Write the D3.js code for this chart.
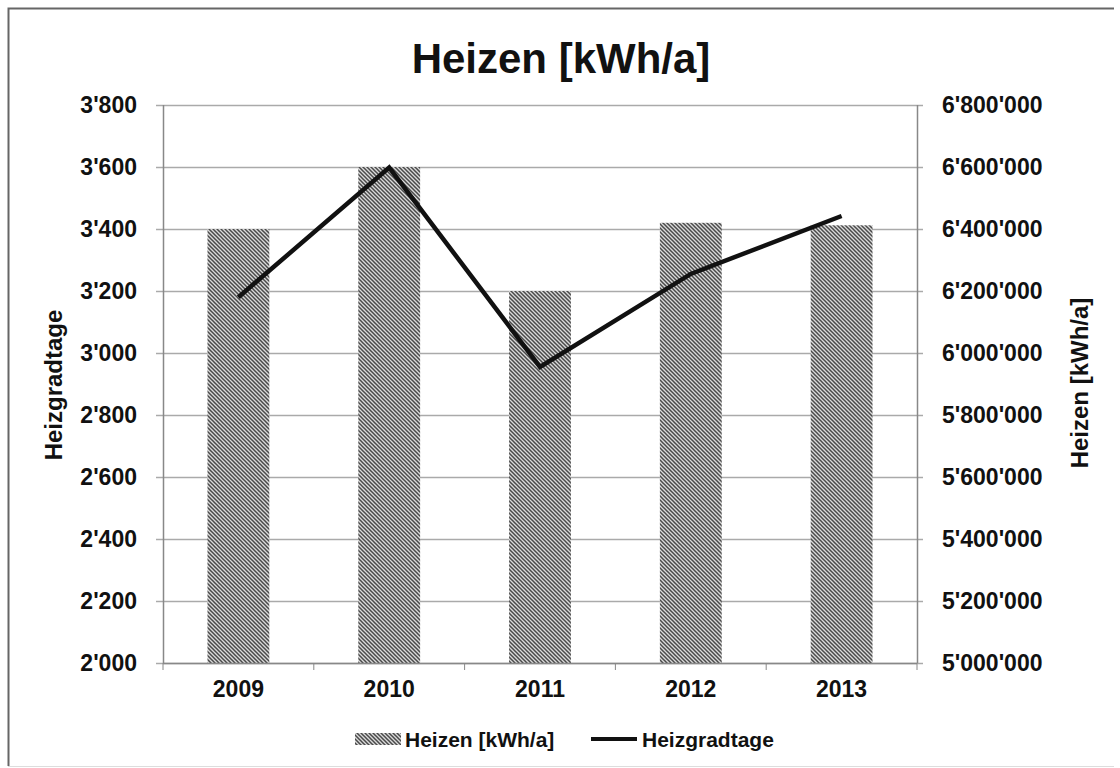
<!DOCTYPE html>
<html>
<head>
<meta charset="utf-8">
<script src="https://cdn.jsdelivr.net/npm/d3@7"></script>
<style>
  body { margin: 0; background: #fff; }
  text { font-family: "Liberation Sans", Arial, sans-serif; font-weight: bold; fill: #111; }
</style>
</head>
<body>
<script>
// data
let years = ["2009", "2010", "2011", "2012", "2013"];
let heizen = [6400000, 6600000, 6200000, 6420000, 6412000];   // bars, right axis
let heizgradtage = [3180, 3598, 2955, 3255, 3442];           // line, left axis
let leftTicks = [2000, 2200, 2400, 2600, 2800, 3000, 3200, 3400, 3600, 3800];
let rightTicks = [5000000, 5200000, 5400000, 5600000, 5800000, 6000000, 6200000, 6400000, 6600000, 6800000];

let width = 1120;
let height = 768;
let margin = {left: 163, right: 203, top: 105, bottom: 105};

let svg = d3.select("body").append("svg")
  .attr("width", width)
  .attr("height", height);

// hatch pattern for bars
let defs = svg.append("defs");
let pat = defs.append("pattern")
  .attr("id", "hatch")
  .attr("patternUnits", "userSpaceOnUse")
  .attr("width", 4)
  .attr("height", 4);
pat.append("rect").attr("width", 4).attr("height", 4).attr("fill", "#dadada");
pat.append("path")
  .attr("d", "M-1,-1 L5,5 M-1,3 L1,5 M3,-1 L5,1")
  .attr("stroke", "#4a4a4a")
  .attr("stroke-width", 1.5);

// outer frame
svg.append("path")
  .attr("d", "M8.5,766 L8.5,8.5 L1114,8.5")
  .attr("fill", "none")
  .attr("stroke", "#666")
  .attr("stroke-width", 2);
svg.append("line")
  .attr("x1", 8).attr("x2", 1114).attr("y1", 766.5).attr("y2", 766.5)
  .attr("stroke", "#ddd");

let x = d3.scaleBand()
  .domain(years)
  .range([margin.left, width - margin.right])
  .paddingInner(0.59)
  .paddingOuter(0.295);

let yL = d3.scaleLinear().domain([2000, 3800]).range([height - margin.bottom, margin.top]);
let yR = d3.scaleLinear().domain([5000000, 6800000]).range([height - margin.bottom, margin.top]);

let fmt = function(v) { return d3.format(",")(v).replace(/,/g, "'"); };

// gridlines
svg.append("g")
  .selectAll("line")
  .data(leftTicks)
  .enter().append("line")
  .attr("x1", margin.left - 7)
  .attr("x2", width - margin.right + 6)
  .attr("y1", d => Math.round(yL(d)) + 0.5)
  .attr("y2", d => Math.round(yL(d)) + 0.5)
  .attr("stroke", "#aaa")
  .attr("stroke-width", 1.5);

// bars
svg.append("g")
  .selectAll("rect")
  .data(years)
  .enter().append("rect")
  .attr("x", d => x(d))
  .attr("width", x.bandwidth())
  .attr("y", (d, i) => yR(heizen[i]))
  .attr("height", (d, i) => yR(5000000) - yR(heizen[i]))
  .attr("fill", "url(#hatch)");

// axes lines
let plotBottom = height - margin.bottom;
svg.append("line")
  .attr("x1", margin.left + 0.5).attr("x2", margin.left + 0.5)
  .attr("y1", margin.top).attr("y2", plotBottom)
  .attr("stroke", "#888").attr("stroke-width", 1.5);
svg.append("line")
  .attr("x1", width - margin.right + 0.5).attr("x2", width - margin.right + 0.5)
  .attr("y1", margin.top).attr("y2", plotBottom)
  .attr("stroke", "#888").attr("stroke-width", 1.5);
svg.append("line")
  .attr("x1", margin.left).attr("x2", width - margin.right)
  .attr("y1", plotBottom + 0.5).attr("y2", plotBottom + 0.5)
  .attr("stroke", "#888").attr("stroke-width", 1.5);

// category tick marks at band boundaries
let step = x.step();
svg.append("g")
  .selectAll("line")
  .data(d3.range(years.length + 1))
  .enter().append("line")
  .attr("x1", i => margin.left + i * step)
  .attr("x2", i => margin.left + i * step)
  .attr("y1", plotBottom)
  .attr("y2", plotBottom + 7)
  .attr("stroke", "#888");

// left tick labels
svg.append("g")
  .selectAll("text")
  .data(leftTicks)
  .enter().append("text")
  .attr("x", 137)
  .attr("y", d => yL(d))
  .attr("dy", "0.36em")
  .attr("text-anchor", "end")
  .style("font-size", "23px")
  .text(fmt);

// right tick labels
svg.append("g")
  .selectAll("text")
  .data(rightTicks)
  .enter().append("text")
  .attr("x", 942)
  .attr("y", d => yR(d))
  .attr("dy", "0.36em")
  .style("font-size", "23px")
  .text(fmt);

// year labels
svg.append("g")
  .selectAll("text")
  .data(years)
  .enter().append("text")
  .attr("x", d => x(d) + x.bandwidth() / 2)
  .attr("y", 697)
  .attr("text-anchor", "middle")
  .style("font-size", "23px")
  .text(d => d);

// line
let line = d3.line()
  .x((d, i) => x(years[i]) + x.bandwidth() / 2)
  .y(d => yL(d));
svg.append("path")
  .datum(heizgradtage)
  .attr("d", line)
  .attr("fill", "none")
  .attr("stroke", "#111")
  .attr("stroke-width", 4.5);

// title
svg.append("text")
  .attr("x", 561)
  .attr("y", 73)
  .attr("text-anchor", "middle")
  .style("font-size", "42px")
  .text("Heizen [kWh/a]");

// axis titles
svg.append("text")
  .attr("transform", "translate(62,385) rotate(-90)")
  .attr("text-anchor", "middle")
  .style("font-size", "24px")
  .text("Heizgradtage");
svg.append("text")
  .attr("transform", "translate(1088,383) rotate(-90)")
  .attr("text-anchor", "middle")
  .style("font-size", "24px")
  .text("Heizen [kWh/a]");

// legend
let legend = svg.append("g");
legend.append("rect")
  .attr("x", 355).attr("y", 733)
  .attr("width", 46).attr("height", 12)
  .attr("fill", "url(#hatch)");
legend.append("text")
  .attr("x", 405).attr("y", 747)
  .style("font-size", "21px")
  .text("Heizen [kWh/a]");
legend.append("line")
  .attr("x1", 591).attr("x2", 637)
  .attr("y1", 739).attr("y2", 739)
  .attr("stroke", "#111").attr("stroke-width", 4);
legend.append("text")
  .attr("x", 642).attr("y", 747)
  .style("font-size", "21px")
  .text("Heizgradtage");
</script>
</body>
</html>
